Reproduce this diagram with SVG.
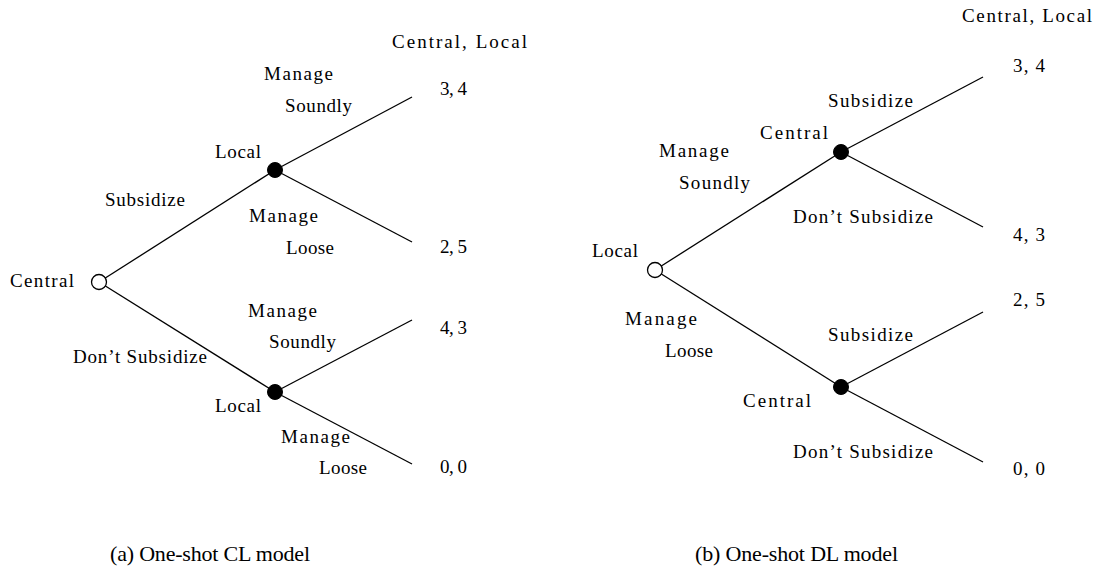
<svg xmlns="http://www.w3.org/2000/svg" width="1096" height="581" viewBox="0 0 1096 581">
<style>
text{font-family:"Liberation Serif","DejaVu Serif",serif;font-size:19px;fill:#000}
.cap{font-size:22px}
.edge{stroke:#000;stroke-width:1.3;fill:none}
.open{fill:#fff;stroke:#000;stroke-width:1.3}
.dec{fill:#000;stroke:#000;stroke-width:1}
</style>
<rect width="1096" height="581" fill="#fff"/>
<g id="connectors">
<line class="edge" x1="99" y1="282" x2="275" y2="170"/>
<line class="edge" x1="99" y1="282" x2="275" y2="392"/>
<line class="edge" x1="275" y1="170" x2="412" y2="97"/>
<line class="edge" x1="275" y1="170" x2="412" y2="242"/>
<line class="edge" x1="275" y1="392" x2="412" y2="320"/>
<line class="edge" x1="275" y1="392" x2="412" y2="464"/>
<line class="edge" x1="655" y1="270" x2="841" y2="152"/>
<line class="edge" x1="655" y1="270" x2="841" y2="387"/>
<line class="edge" x1="841" y1="152" x2="983" y2="77"/>
<line class="edge" x1="841" y1="152" x2="983" y2="227"/>
<line class="edge" x1="841" y1="387" x2="983" y2="312"/>
<line class="edge" x1="841" y1="387" x2="983" y2="462"/>
</g>
<g id="left-root"><circle class="open" cx="99" cy="282" r="7.5"/><text x="10" y="287" textLength="64">Central</text></g>
<g id="left-local-top"><circle class="dec" cx="275" cy="170" r="7.5"/><text x="215" y="158" textLength="46">Local</text></g>
<g id="left-local-bottom"><circle class="dec" cx="275" cy="392" r="7.5"/><text x="215" y="412" textLength="46">Local</text></g>
<g id="left-labels">
<text x="392" y="48" textLength="135">Central, Local</text>
<text x="264" y="80" textLength="69">Manage</text>
<text x="285" y="112" textLength="67">Soundly</text>
<text x="105" y="206" textLength="80">Subsidize</text>
<text x="249" y="222" textLength="69">Manage</text>
<text x="286" y="254" textLength="48">Loose</text>
<text x="248" y="317" textLength="69">Manage</text>
<text x="269" y="348" textLength="67">Soundly</text>
<text x="73" y="363" textLength="134">Don’t Subsidize</text>
<text x="281" y="443" textLength="69">Manage</text>
<text x="319" y="474" textLength="48">Loose</text>
</g>
<g id="left-payoffs">
<text x="440" y="95" textLength="27">3, 4</text>
<text x="440" y="253" textLength="27">2, 5</text>
<text x="440" y="334" textLength="27">4, 3</text>
<text x="440" y="473" textLength="27">0, 0</text>
</g>
<g id="right-root"><circle class="open" cx="655" cy="270" r="7.5"/><text x="592" y="257" textLength="46">Local</text></g>
<g id="right-central-top"><circle class="dec" cx="841" cy="152" r="7.5"/><text x="760" y="139" textLength="68">Central</text></g>
<g id="right-central-bottom"><circle class="dec" cx="841" cy="387" r="7.5"/><text x="743" y="407" textLength="68">Central</text></g>
<g id="right-labels">
<text x="962" y="22" textLength="130">Central, Local</text>
<text x="828" y="107" textLength="85">Subsidize</text>
<text x="659" y="157" textLength="70">Manage</text>
<text x="679" y="189" textLength="71">Soundly</text>
<text x="793" y="223" textLength="140">Don’t Subsidize</text>
<text x="625" y="325" textLength="72">Manage</text>
<text x="665" y="357" textLength="48">Loose</text>
<text x="828" y="341" textLength="85">Subsidize</text>
<text x="793" y="458" textLength="140">Don’t Subsidize</text>
</g>
<g id="right-payoffs">
<text x="1013" y="72" textLength="32">3, 4</text>
<text x="1013" y="241" textLength="32">4, 3</text>
<text x="1013" y="306" textLength="32">2, 5</text>
<text x="1013" y="475" textLength="32">0, 0</text>
</g>
<g id="captions">
<text class="cap" x="110" y="561" textLength="200">(a) One-shot CL model</text>
<text class="cap" x="695" y="561" textLength="203">(b) One-shot DL model</text>
</g>
</svg>
